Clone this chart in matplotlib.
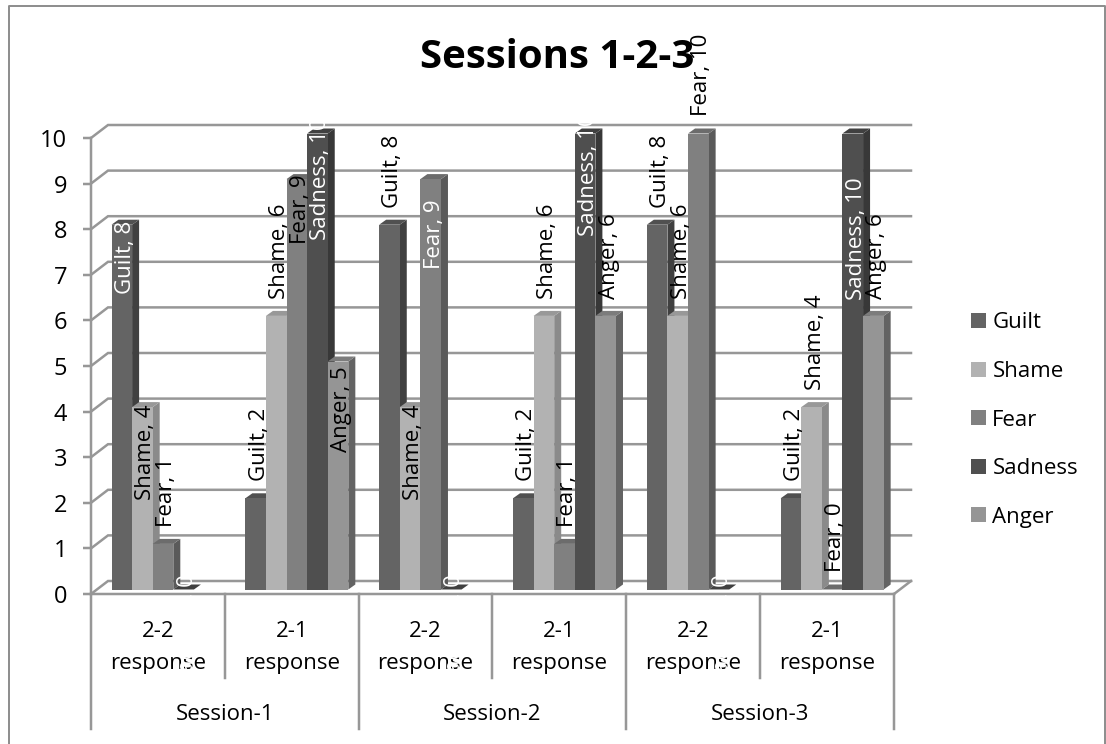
import matplotlib
matplotlib.use("Agg")
import matplotlib.pyplot as plt
from matplotlib.patches import Polygon

plt.rcParams['font.family'] = ['Open Sans', 'DejaVu Sans']

# ---- data ----
title = "Sessions 1-2-3"
sessions = ["Session-1", "Session-2", "Session-3"]
responses = ["2-2\nresponse", "2-1\nresponse", "2-2\nresponse", "2-1\nresponse", "2-2\nresponse", "2-1\nresponse"]
series_names = ["Guilt", "Shame", "Fear", "Sadness", "Anger"]
guilt = [8, 2, 8, 2, 8, 2]
shame = [4, 6, 4, 6, 6, 4]
fear = [1, 9, 9, 1, 10, 0]
sadness = [0, 10, 0, 10, 0, 10]
anger = [None, 5, None, 6, None, 6]
yticks = list(range(0, 11))

# ---- style ----
front = ["#646464", "#b2b2b2", "#808080", "#4f4f4f", "#959595"]
side = ["#404040", "#8a8a8a", "#5a5a5a", "#383838", "#636363"]
top = ["#505050", "#989898", "#6c6c6c", "#404040", "#7c7c7c"]
GRID = "#979797"
W, H = 1106, 744
L, R, Y0, Y10 = 91, 894, 594, 138
FS = 16
# label distance below the bar top, pixels (negative: above the bar)
G = -17
label_gap = [
    [69, 93, G, 95, None],
    [G, G, 65, 106, 91],
    [G, 93, 90, 95, None],
    [G, G, G, 103, G],
    [G, G, G, 95, None],
    [G, G, G, 166, G],
]
white_labels = {(0, 0), (2, 2), (0, 3), (1, 3), (2, 3), (3, 3), (4, 3), (5, 3)}

fig = plt.figure(figsize=(W / 100, H / 100), dpi=100)
ax = fig.add_axes([L / W, 1 - Y0 / H, (R - L) / W, (Y0 - Y10) / H])
ax.set_xlim(0, 6)
ax.set_ylim(0, 10)
sx = 6 / (R - L)
sy = 10 / (Y0 - Y10)
lw = 2.0 * 0.72 * 1.25

for s in ["top", "right"]:
    ax.spines[s].set_visible(False)
for s in ["left", "bottom"]:
    ax.spines[s].set_color(GRID)
    ax.spines[s].set_linewidth(lw)
ax.set_yticks(yticks)
ax.tick_params(axis='y', length=6, width=lw, color=GRID, labelsize=17, pad=11, labelcolor="black")
ax.set_xticks([i + 0.5 for i in range(6)])
ax.set_xticklabels(responses, fontsize=FS, linespacing=1.68)
ax.tick_params(axis='x', length=0, pad=19.5)

# walls
wx, wy = 17 * sx, 13 * sy
for v in yticks:
    ax.plot([0, wx, 6 + wx], [v, v + wy, v + wy], color=GRID, lw=lw, zorder=1, clip_on=False,
            solid_joinstyle='miter')
ax.plot([6, 6 + wx], [0, wy], color=GRID, lw=lw, zorder=1, clip_on=False)

# category separators below the axis
for i in range(7):
    low = -135 * sy if i % 2 == 0 else -84 * sy
    ax.plot([i, i], [0, low], color=GRID, lw=lw, clip_on=False, zorder=1)
for i, sname in enumerate(sessions):
    ax.text(2 * i + 1, -120 * sy, sname, ha='center', va='center', fontsize=FS)

# bars
all_series = [guilt, shame, fear, sadness, anger]
bw = 20.6 * sx
start = 20.5 * sx
base = 4.5 * sy
dx, dy = 7 * sx, 5 * sy
for k, (vals, name) in enumerate(zip(all_series, series_names)):
    xs, hs = [], []
    for i, v in enumerate(vals):
        if v is not None:
            xs.append(i + start + (k + 0.5) * bw)
            hs.append(v)
    ax.bar(xs, hs, width=bw, bottom=base, color=front[k], label=name, zorder=3 + k * 0.1, clip_on=False, linewidth=0)
    for x, v in zip(xs, hs):
        x0, x1, t = x - bw / 2, x + bw / 2, base + v
        ax.add_patch(Polygon([(x1, base), (x1 + dx, base + dy), (x1 + dx, t + dy), (x1, t)], closed=True,
                             fc=side[k], ec='none', zorder=2.95 + k * 0.1, clip_on=False))
        ax.add_patch(Polygon([(x0, t), (x0 + dx, t + dy), (x1 + dx, t + dy), (x1, t)], closed=True,
                             fc=top[k], ec='none', zorder=2.95 + k * 0.1, clip_on=False))

# data labels
for i in range(6):
    for k, (vals, name) in enumerate(zip(all_series, series_names)):
        v = vals[i]
        if v is None:
            continue
        x = i + start + (k + 0.5) * bw
        yb = base + v - label_gap[i][k] * sy
        ax.text(x + 3.5 * sx, yb, f"{name}, {v}", rotation=90, ha='center', va='bottom', fontsize=FS,
                color='white' if (i, k) in white_labels else 'black', zorder=10, clip_on=False,
                rotation_mode='default')

# title, legend, frame
fig.text(557 / W, 1 - 58 / H, title, ha='center', va='center', fontsize=29, fontweight='bold', zorder=9)
fig.legend(loc='center left', bbox_to_anchor=(971 / W, 1 - 420 / H), frameon=False, fontsize=FS,
           labelspacing=1.24, handlelength=0.68, handleheight=0.68, handletextpad=0.28,
           borderpad=0, borderaxespad=0)
FR = '#8c8c8c'
fig.add_artist(plt.Line2D([9 / W, 9 / W, 1105 / W, 1105 / W], [0, 1 - 6 / H, 1 - 6 / H, 0],
                          transform=fig.transFigure, color=FR, lw=1.4))
fig.savefig("out.png", dpi=100)
